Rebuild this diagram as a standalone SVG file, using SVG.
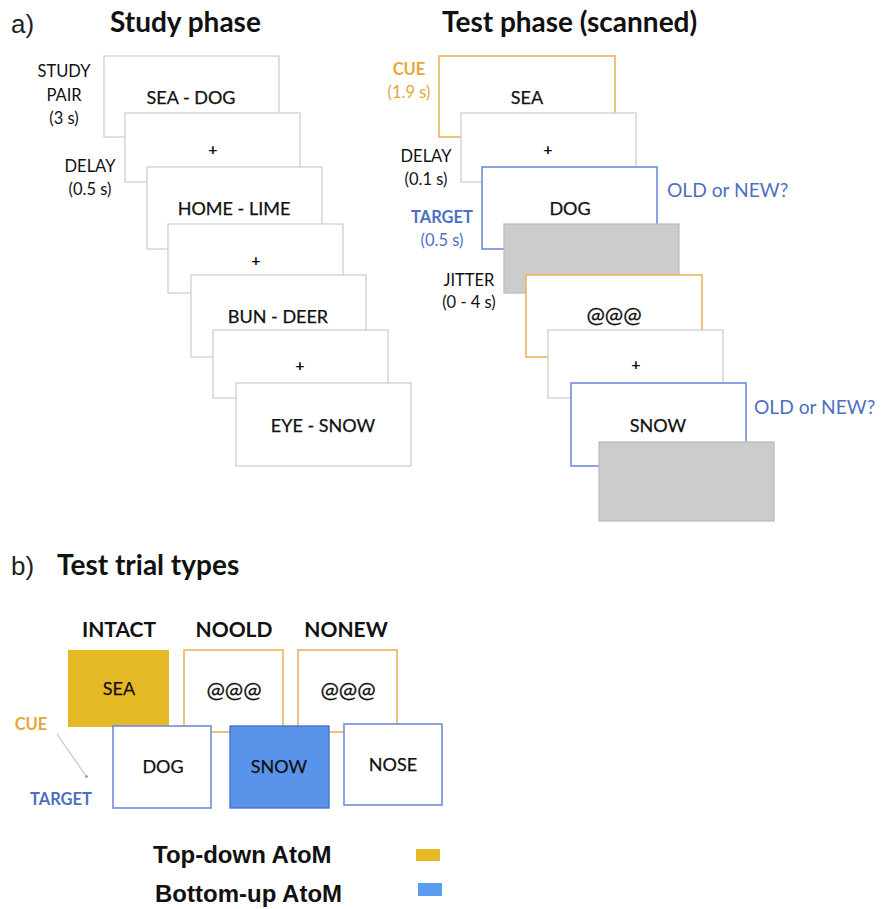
<svg xmlns="http://www.w3.org/2000/svg" width="881" height="909" viewBox="0 0 881 909">
  <style>
    .hd { font-family: Lato, "Liberation Sans", sans-serif; font-weight: 700; font-size: 28px; fill: #111; }
    .tag { font-family: "Liberation Sans", Arial, sans-serif; font-weight: 300; font-size: 26px; fill: #222; }
    .lbl { font-family: Lato, "Liberation Sans", sans-serif; font-size: 16.5px; fill: #111; text-anchor: middle; }
    .word { font-family: Lato, "Liberation Sans", sans-serif; font-size: 18px; fill: #111; stroke: #111; stroke-width: 0.25; text-anchor: middle; }
    .at { font-size: 22px; }
    .plus { font-family: Lato, "Liberation Sans", sans-serif; font-size: 16px; font-weight: 700; fill: #111; text-anchor: middle; }
    .scr { fill: #fff; stroke: #cfcfcf; stroke-width: 1.3; }
    .cue { fill: #fff; stroke: #ebb55a; stroke-width: 1.6; }
    .tgt { fill: #fff; stroke: #6f8dd6; stroke-width: 1.6; }
    .blank { fill: #cccccc; stroke: #bdbdbd; stroke-width: 1.3; }
    .orange { fill: #e3a73c; }
    .blue { fill: #4f6fc2; }
    .q { font-family: Lato, "Liberation Sans", sans-serif; font-size: 19.2px; fill: #4f6fc2; }
    .type { font-family: Lato, "Liberation Sans", sans-serif; font-weight: 700; font-size: 21px; fill: #111; text-anchor: middle; }
    .leg { font-family: "Liberation Sans", Arial, sans-serif; font-weight: 700; font-size: 24px; fill: #111; }
  </style>

  <!-- panel a: headings -->
  <text class="tag" x="11" y="33">a)</text>
  <text class="hd" x="110" y="32">Study phase</text>
  <text class="hd" x="442" y="32">Test phase (scanned)</text>

  <!-- study phase sequence -->
  <g id="study-pair-1">
    <rect class="scr" x="104" y="56" width="175" height="81"/>
    <text class="word" x="191" y="104">SEA - DOG</text>
  </g>
  <g id="study-delay-1">
    <rect class="scr" x="125" y="113" width="175" height="69"/>
    <text class="plus" x="213" y="155">+</text>
  </g>
  <g id="study-pair-2">
    <rect class="scr" x="147" y="167" width="175" height="82"/>
    <text class="word" x="234" y="215">HOME - LIME</text>
  </g>
  <g id="study-delay-2">
    <rect class="scr" x="168" y="224" width="175" height="69"/>
    <text class="plus" x="256" y="266">+</text>
  </g>
  <g id="study-pair-3">
    <rect class="scr" x="191" y="275" width="175" height="82"/>
    <text class="word" x="278" y="323">BUN - DEER</text>
  </g>
  <g id="study-delay-3">
    <rect class="scr" x="213" y="330" width="175" height="68"/>
    <text class="plus" x="300" y="371">+</text>
  </g>
  <g id="study-pair-4">
    <rect class="scr" x="236" y="383" width="175" height="83"/>
    <text class="word" x="323" y="432">EYE - SNOW</text>
  </g>

  <g id="study-labels">
    <text class="lbl" x="64" y="77">STUDY</text>
    <text class="lbl" x="64" y="101">PAIR</text>
    <text class="lbl" x="64" y="124">(3 s)</text>
    <text class="lbl" x="90" y="172">DELAY</text>
    <text class="lbl" x="90" y="195">(0.5 s)</text>
  </g>

  <!-- test phase sequence -->
  <g id="test-cue-1">
    <rect class="cue" x="439" y="56" width="176" height="81"/>
    <text class="word" x="527" y="104">SEA</text>
  </g>
  <g id="test-delay-1">
    <rect class="scr" x="461" y="113" width="175" height="69"/>
    <text class="plus" x="548" y="155">+</text>
  </g>
  <g id="test-target-1">
    <rect class="tgt" x="482" y="167" width="175" height="82"/>
    <text class="word" x="570" y="215">DOG</text>
  </g>
  <g id="test-jitter-1">
    <rect class="blank" x="504" y="224" width="175" height="69"/>
  </g>
  <g id="test-cue-2">
    <rect class="cue" x="526" y="275" width="176" height="82"/>
    <text class="word at" x="614" y="323">@@@</text>
  </g>
  <g id="test-delay-2">
    <rect class="scr" x="548" y="330" width="175" height="68"/>
    <text class="plus" x="636" y="370">+</text>
  </g>
  <g id="test-target-2">
    <rect class="tgt" x="571" y="383" width="175" height="83"/>
    <text class="word" x="658" y="432">SNOW</text>
  </g>
  <g id="test-jitter-2">
    <rect class="blank" x="599" y="442" width="175" height="79"/>
  </g>

  <g id="test-labels">
    <text class="lbl orange" x="409" y="75" font-weight="700">CUE</text>
    <text class="lbl orange" x="409" y="98">(1.9 s)</text>
    <text class="lbl" x="426" y="162">DELAY</text>
    <text class="lbl" x="426" y="185">(0.1 s)</text>
    <text class="lbl blue" x="442" y="223" font-weight="700">TARGET</text>
    <text class="lbl blue" x="442" y="246">(0.5 s)</text>
    <text class="lbl" x="469" y="286">JITTER</text>
    <text class="lbl" x="469" y="308">(0 - 4 s)</text>
    <text class="q" x="667" y="197">OLD or NEW?</text>
    <text class="q" x="754" y="414">OLD or NEW?</text>
  </g>

  <!-- panel b -->
  <text class="tag" x="11" y="575">b)</text>
  <text class="hd" x="57" y="575" font-size="25.4">Test trial types</text>

  <text class="type" x="119" y="637">INTACT</text>
  <text class="type" x="234" y="637">NOOLD</text>
  <text class="type" x="346" y="637">NONEW</text>

  <g id="intact-cue">
    <rect x="68" y="650" width="101" height="77" fill="#e5b826"/>
    <text class="word" x="119" y="695" font-size="20">SEA</text>
  </g>
  <g id="noold-cue">
    <rect class="cue" x="184" y="650" width="99" height="82" stroke-width="1.3"/>
    <text class="word at" x="234" y="698">@@@</text>
  </g>
  <g id="nonew-cue">
    <rect class="cue" x="298" y="650" width="99" height="82" stroke-width="1.3"/>
    <text class="word at" x="348" y="698">@@@</text>
  </g>
  <g id="intact-target">
    <rect class="tgt" x="113" y="726" width="98" height="82" stroke-width="1.3"/>
    <text class="word" x="163" y="773">DOG</text>
  </g>
  <g id="noold-target">
    <rect x="230" y="726" width="99" height="82" fill="#5a93ea" stroke="#3f6fc8" stroke-width="1.3"/>
    <text class="word" x="279" y="773">SNOW</text>
  </g>
  <g id="nonew-target">
    <rect class="tgt" x="344" y="724" width="98" height="81" stroke-width="1.3"/>
    <text class="word" x="393" y="771">NOSE</text>
  </g>

  <g id="cue-target-key">
    <text class="lbl orange" x="31" y="730" font-weight="700" font-size="18.5">CUE</text>
    <text class="lbl blue" x="61" y="805" font-weight="700" font-size="18.5">TARGET</text>
  </g>
  <g id="connectors">
    <line x1="57" y1="734" x2="86" y2="776" stroke="#c4c4c4" stroke-width="1.2"/>
    <circle cx="86.5" cy="776.5" r="1.3" fill="#8a8a8a"/>
  </g>

  <!-- legend -->
  <g id="legend">
    <text class="leg" x="153" y="863">Top-down AtoM</text>
    <rect x="416" y="849" width="24" height="12" fill="#e5b826"/>
    <text class="leg" x="155" y="902">Bottom-up AtoM</text>
    <rect x="418" y="883" width="24" height="13" fill="#5a9cf0"/>
  </g>
</svg>
